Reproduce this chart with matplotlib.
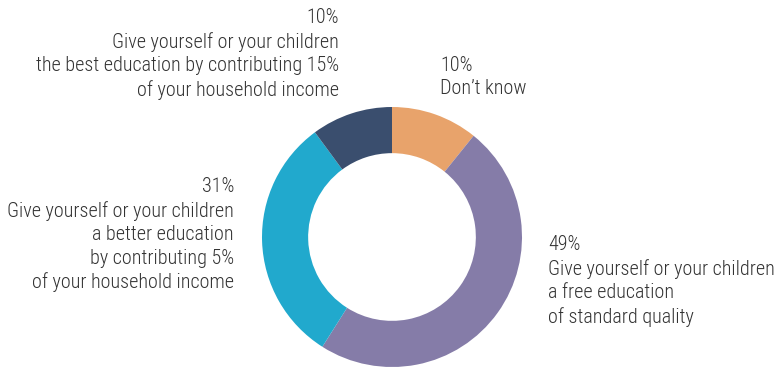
import matplotlib
matplotlib.use('Agg')
import matplotlib.pyplot as plt

# Slice shares (measured from the ring) and their printed labels
shares = [10.8, 48.2, 30.9, 10.1]
pct_labels = ['10%', '49%', '31%', '10%']
answers = ["Don\u2019t know",
           'Give yourself or your children\na free education\nof standard quality',
           'Give yourself or your children\na better education\nby contributing 5%\nof your household income',
           'Give yourself or your children\nthe best education by contributing 15%\nof your household income']
colors = ['#E8A36B', '#857CA8', '#21A9CD', '#3A4E6E']

plt.rcParams['font.family'] = ['Roboto Condensed', 'DejaVu Sans']

W, H = 777, 368
fig = plt.figure(figsize=(W / 100, H / 100), dpi=100)

# donut: centre (392, 237) from top, radius 130 px
cx, cy, R = 392, H - 237, 130
ax = fig.add_axes([(cx - R) / W, (cy - R) / H, 2 * R / W, 2 * R / H])
ax.pie(shares, colors=colors, startangle=90, counterclock=False,
       wedgeprops=dict(width=0.355, linewidth=0))
ax.set_xlim(-1, 1)
ax.set_ylim(-1, 1)
ax.set_aspect('equal')
ax.axis('off')

# label anchors in pixels from top-left: (x, y_top, ha)
anchors = [(440, 56, 'left'), (548, 235, 'left'), (234, 177, 'right'), (339, 8, 'right')]
for (x, y, ha), p, a in zip(anchors, pct_labels, answers):
    fig.text(x / W, 1 - y / H, p + '\n' + a, ha=ha, va='top',
             multialignment=ha, fontsize=14.5, fontweight=300,
             color='#333333', linespacing=1.3)

plt.savefig('out.png', dpi=100)
